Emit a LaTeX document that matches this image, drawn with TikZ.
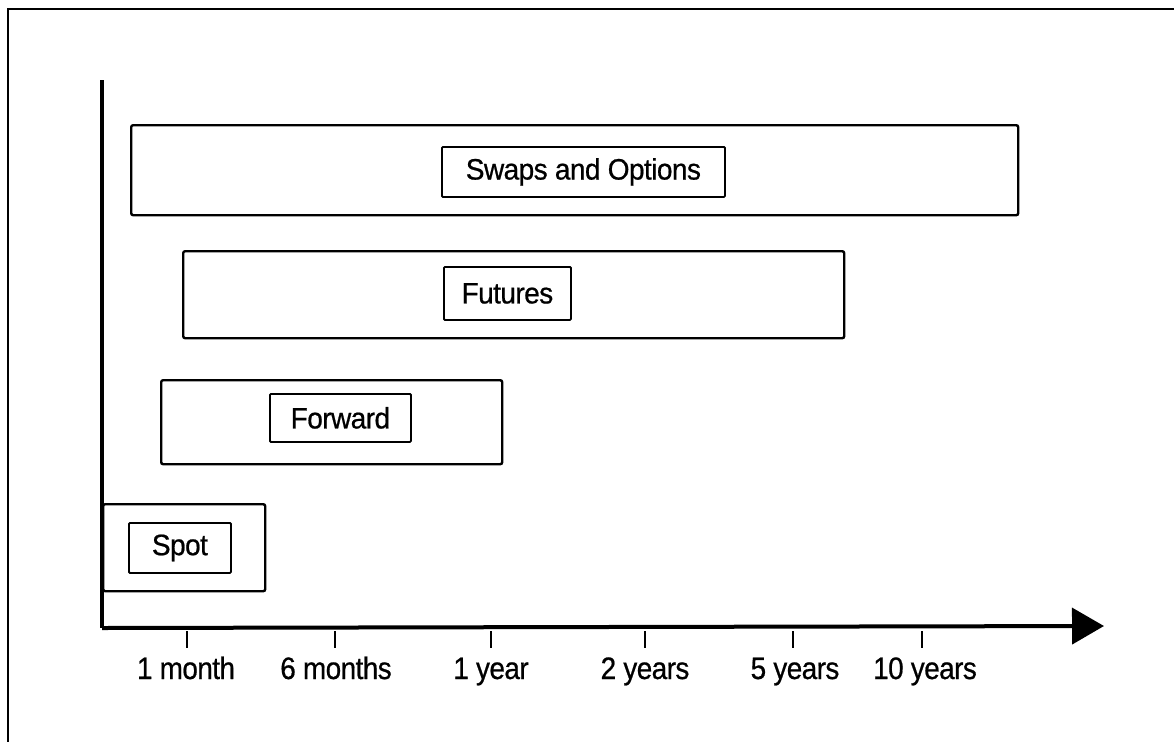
\documentclass[tikz,border=0pt]{standalone}
\usepackage{fontspec}
\setmainfont{Liberation Sans}[FakeBold=0.7,LetterSpace=-2]
\usetikzlibrary{arrows.meta}
\newcommand{\narrowtext}[2]{\scalebox{#1}[1]{#2}}
\begin{document}
\begin{tikzpicture}[x=1pt,y=-1pt,
  boxline/.style={draw=black,line width=2.4pt,rounded corners=2pt,inner sep=0pt,anchor=north west},
  labelbox/.style={draw=black,line width=1.8pt,rounded corners=1pt,inner sep=0pt,anchor=north west,
    font=\fontsize{29.5}{34}\selectfont},
  ticklabel/.style={font=\fontsize{31}{36}\selectfont,inner sep=0pt,anchor=base},
  axisline/.style={line width=4pt},
  tickline/.style={line width=2pt}]
\useasboundingbox (0,0) rectangle (1174,742);
% outer frame (top and left edges)
\draw[line width=2pt] (1174,9) -- (8,9) -- (8,742);
% axes
\coordinate (ytop) at (102,80);
\coordinate (orig) at (102,628);
\coordinate (xend) at (1104,626);
\draw[axisline] (ytop) -- (orig);
\draw[axisline,-{Triangle[length=32pt,width=36pt]}] (orig) -- (xend);
% ticks and labels
\foreach \n/\x/\lx/\t in {a/187/186/1 month, b/335/336/6 months, c/491/491/1 year, d/645/645/2 years, e/793/795/5 years, f/922/925/10 years}{
  \coordinate (t\n) at (\x,631);
  \coordinate (u\n) at (\x,648);
  \draw[tickline] (t\n) -- (u\n);
  \node[ticklabel] (l\n) at (\lx,679) {\narrowtext{0.9}{\t}};
}
% boxes
\node[boxline,minimum width=887pt,minimum height=90pt] (swapsbox) at (130,124) {};
\node[labelbox,minimum width=283pt,minimum height=50pt] (swaps) at (441,146) {\narrowtext{0.95}{Swaps and Options}};
\node[boxline,minimum width=661pt,minimum height=87pt] (futbox) at (182,250) {};
\node[labelbox,minimum width=127pt,minimum height=53pt] (fut) at (443,266) {\narrowtext{0.95}{Futures}};
\node[boxline,minimum width=341pt,minimum height=84pt] (fwdbox) at (160,379) {};
\node[labelbox,minimum width=141pt,minimum height=48pt] (fwd) at (269,393) {\narrowtext{0.95}{Forward}};
\node[boxline,minimum width=162pt,minimum height=87pt] (spotbox) at (102,503) {};
\node[labelbox,minimum width=102pt,minimum height=50pt] (spot) at (128,522) {\narrowtext{0.95}{Spot}};
\end{tikzpicture}
\end{document}
